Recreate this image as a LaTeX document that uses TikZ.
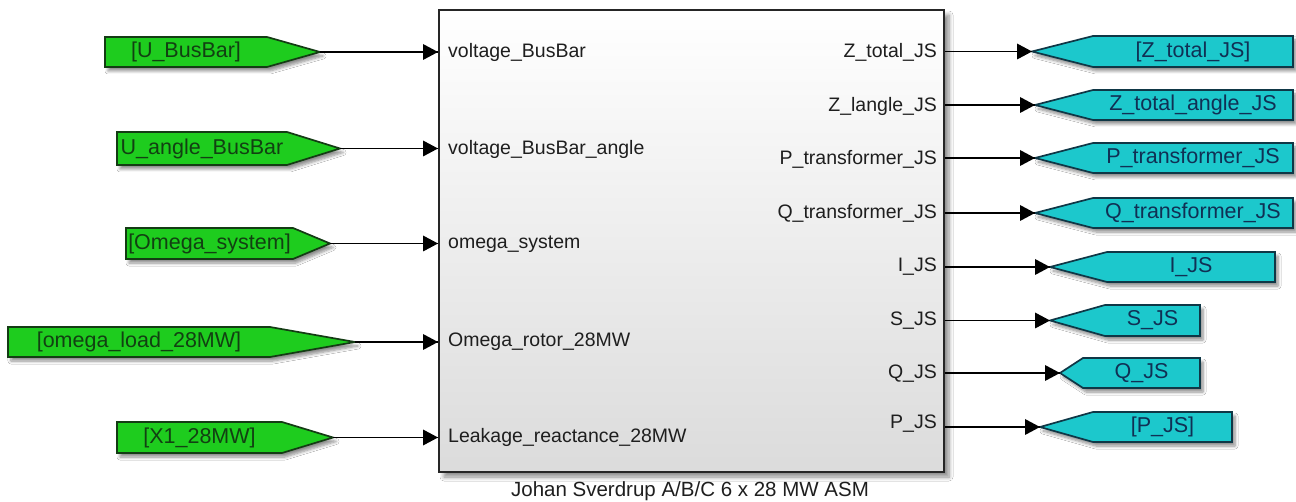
\documentclass[tikz,border=0pt]{standalone}
\usepackage{fontspec}
\setmainfont{Liberation Sans}
\usetikzlibrary{arrows.meta,shadows.blur}

\definecolor{gotoGreen}{RGB}{30,204,30}
\definecolor{gotoCyan}{RGB}{28,200,204}
\definecolor{greenEdge}{RGB}{20,60,20}
\definecolor{cyanEdge}{RGB}{15,55,70}
\definecolor{greenInk}{RGB}{18,64,18}
\definecolor{cyanInk}{RGB}{16,48,84}
\definecolor{portInk}{RGB}{30,30,30}

\tikzset{
  tagshadow/.style={blur shadow={shadow xshift=3pt, shadow yshift=-4pt,
      shadow blur radius=3pt, shadow blur steps=6, shadow opacity=45}},
  fromtag/.style={fill=gotoGreen, draw=greenEdge, line width=1.7pt, line join=miter, tagshadow},
  gototag/.style={fill=gotoCyan, draw=cyanEdge, line width=1.7pt, line join=miter, tagshadow},
  greentext/.style={inner sep=0pt, text=greenInk, font=\fontsize{21.5}{22}\selectfont},
  cyantext/.style={inner sep=0pt, text=cyanInk, font=\fontsize{21.5}{22}\selectfont},
  inport/.style={anchor=west, inner sep=0pt, text=portInk, font=\fontsize{19.5}{20}\selectfont},
  outport/.style={anchor=east, inner sep=0pt, text=portInk, font=\fontsize{19.5}{20}\selectfont},
  sig/.style={line width=1.9pt},
  head/.style={fill=black, draw=none},
  subsystem/.style={draw=black!85, line width=2pt, top color=white, middle color=white!96!black,
      bottom color=black!14, minimum width=505pt, minimum height=462pt,
      anchor=north west, inner sep=0pt,
      blur shadow={shadow xshift=5pt, shadow yshift=-5pt, shadow blur radius=4pt,
        shadow blur steps=6, shadow opacity=45}},
}

% From tag pointing right: name, left, bend, tip, top, bottom, text
\newcommand{\fromgoto}[7]{%
  \path[fromtag] (#2,#5) -- (#3,#5) -- (#4,{(#5+#6)/2}) -- (#3,#6) -- (#2,#6) -- cycle;
  \node[greentext] (#1) at ({(#2+#3)/2},{(#5+#6)/2}) {#7};
  \coordinate (#1-tip) at (#4,{(#5+#6)/2});
}
% Goto tag pointing left: name, tip, bend, right, top, bottom, text
\newcommand{\togoto}[7]{%
  \path[gototag] (#2,{(#5+#6)/2}) -- (#3,#5) -- (#4,#5) -- (#4,#6) -- (#3,#6) -- cycle;
  \node[cyantext] (#1) at ({(#3+#4)/2},{(#5+#6)/2}) {#7};
  \coordinate (#1-tip) at (#2,{(#5+#6)/2});
}
% filled arrowhead ending at a named point, pointing right
\newcommand{\arrowhead}[1]{%
  \fill[head] (#1) -- ++(-15,-8) -- ++(0,16) -- cycle;
}

\begin{document}
\begin{tikzpicture}[x=1pt,y=-1pt]
\useasboundingbox[fill=white] (0,0) rectangle (1296,502);

% subsystem block
\node[subsystem] (blk) at (438,9) {};
\node[font=\fontsize{20.5}{21}\selectfont, text=portInk, inner sep=0pt] (caption) at (690,491)
  {Johan Sverdrup A/B/C 6 x 28 MW ASM};

% input port labels
\node[inport] (pin1) at (448,52)  {voltage\_BusBar};
\node[inport] (pin2) at (448,149) {voltage\_BusBar\_angle};
\node[inport] (pin3) at (448,244) {omega\_system};
\node[inport] (pin4) at (448,342) {Omega\_rotor\_28MW};
\node[inport] (pin5) at (448,437) {Leakage\_reactance\_28MW};

% output port labels
\node[outport] (pout1) at (937,52)  {Z\_total\_JS};
\node[outport] (pout2) at (937,106) {Z\_langle\_JS};
\node[outport] (pout3) at (937,159) {P\_transformer\_JS};
\node[outport] (pout4) at (937,213) {Q\_transformer\_JS};
\node[outport] (pout5) at (937,267) {I\_JS};
\node[outport] (pout6) at (937,321) {S\_JS};
\node[outport] (pout7) at (937,374) {Q\_JS};
\node[outport] (pout8) at (937,424) {P\_JS};

% from tags
\fromgoto{ubus}{105}{267}{320}{37}{67}{[U\_BusBar]}
\fromgoto{uang}{117}{287}{340}{132}{165}{U\_angle\_BusBar}
\fromgoto{omsys}{126}{293}{330}{228}{259}{[Omega\_system]}
\fromgoto{omload}{8}{270}{355}{327}{357}{[omega\_load\_28MW]}
\fromgoto{xone}{117}{282}{333}{422}{453}{[X1\_28MW]}

% goto tags
\togoto{ztot}{1032}{1093}{1293}{36}{67}{[Z\_total\_JS]}
\togoto{zang}{1035}{1093}{1293}{90}{120}{Z\_total\_angle\_JS}
\togoto{ptr}{1035}{1093}{1293}{143}{173}{P\_transformer\_JS}
\togoto{qtr}{1035}{1093}{1293}{198}{228}{Q\_transformer\_JS}
\togoto{ijs}{1050}{1107}{1275}{252}{282}{I\_JS}
\togoto{sjs}{1050}{1105}{1200}{305}{336}{S\_JS}
\togoto{qjs}{1060}{1083}{1200}{358}{388}{Q\_JS}
\togoto{pjs}{1040}{1093}{1232}{412}{442}{[P\_JS]}

% input signals
\foreach \t in {ubus,uang,omsys,omload,xone}{
  \draw[sig] (\t-tip) -- (\t-tip -| blk.west);
  \arrowhead{\t-tip -| blk.west}
}

% output signals
\foreach \t in {ztot,zang,ptr,qtr,ijs,sjs,qjs,pjs}{
  \draw[sig] (\t-tip -| blk.east) -- (\t-tip);
  \arrowhead{\t-tip}
}
\end{tikzpicture}
\end{document}
